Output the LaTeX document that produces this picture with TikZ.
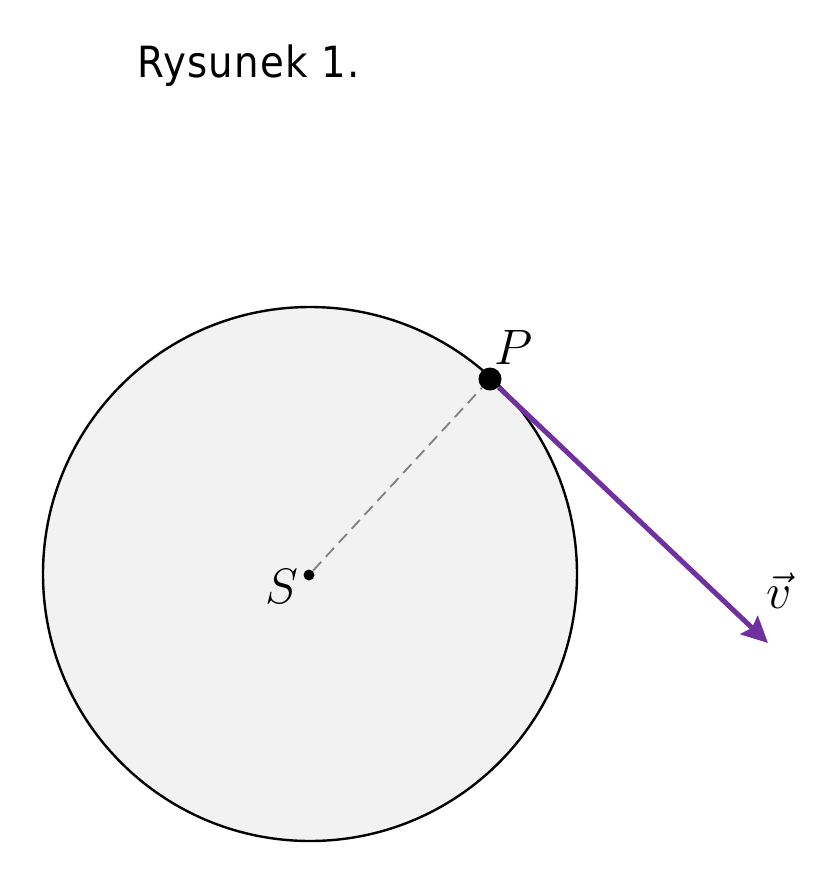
\documentclass[tikz,border=0pt]{standalone}
\usepackage{fontspec}
\setmainfont{DejaVu Sans}
\newfontfamily\titlefont[LetterSpace=3]{DejaVu Sans Condensed}
\usetikzlibrary{arrows.meta}
\definecolor{vpurple}{RGB}{112,48,160}
\definecolor{diskfill}{RGB}{242,242,242}
\tikzset{
  disk/.style={circle,draw=black,line width=1.2pt,fill=diskfill,minimum size=267pt,inner sep=0pt},
  bigdot/.style={circle,fill=black,minimum size=11.5pt,inner sep=0pt},
  smalldot/.style={circle,fill=black,minimum size=5.5pt,inner sep=0pt},
  radius line/.style={dashed,draw=gray,line width=0.9pt,dash pattern=on 6pt off 3.5pt},
  velocity/.style={draw=vpurple,line width=2.5pt,-{Stealth[length=13pt,width=12.5pt,inset=2pt]}},
  mathlabel/.style={inner sep=0pt,font=\fontsize{23}{28}\selectfont},
  titletext/.style={inner sep=0pt,anchor=base west,font=\titlefont\fontsize{21.5}{26}\selectfont}
}
\begin{document}
\begin{tikzpicture}[x=0.5pt,y=-0.5pt]
\useasboundingbox (0,0) rectangle (833,885);
\node[titletext] (title) at (137,77) {Rysunek 1.};
\node[disk] (disk) at (310,574) {};
\node[smalldot] (S) at (309,575) {};
\node[bigdot] (P) at (490,379) {};
\coordinate (vend) at (768,643);
\draw[radius line] (S) -- (P);
\draw[velocity] (P) -- (vend);
\node[mathlabel] (Slabel) at (282,586) {$S$};
\node[mathlabel] (Plabel) at (514,347) {$P$};
\node[mathlabel] (vlabel) at (779,591) {$\vec{v}$};
\end{tikzpicture}
\end{document}
